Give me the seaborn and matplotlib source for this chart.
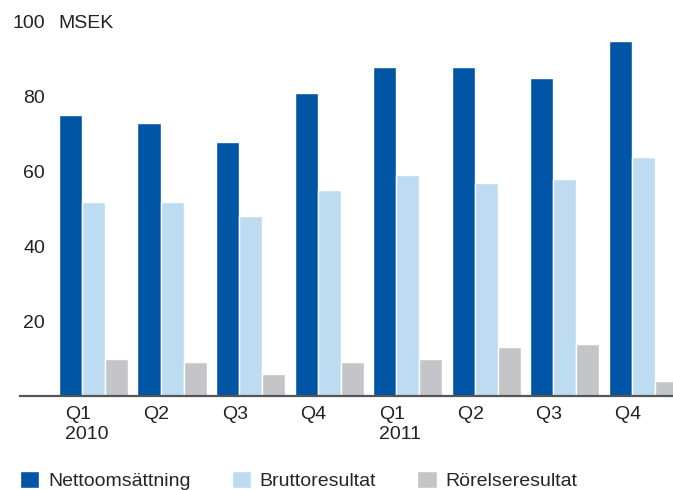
import matplotlib
matplotlib.use('Agg')
import matplotlib.pyplot as plt
import matplotlib.transforms as mtransforms
import pandas as pd
import seaborn as sns

# Data (MSEK)
kvartal = ['Q1\n2010', 'Q2', 'Q3', 'Q4', 'Q1\n2011', 'Q2 ', 'Q3 ', 'Q4 ']
nettoomsattning = [75, 73, 68, 81, 88, 88, 85, 95]
bruttoresultat = [52, 52, 48, 55, 59, 57, 58, 64]
rorelseresultat = [10, 9, 6, 9, 10, 13, 14, 4]
serier = ['Nettoomsättning', 'Bruttoresultat', 'Rörelseresultat']
farger = ['#0055a5', '#bddcf2', '#c3c5c8']

df = pd.DataFrame({
    'kvartal': kvartal * 3,
    'serie': [s for s in serier for _ in kvartal],
    'varde': nettoomsattning + bruttoresultat + rorelseresultat,
})

sns.set_theme(style='white')
plt.rcParams['font.family'] = ['Liberation Sans', 'DejaVu Sans']
plt.rcParams['font.size'] = 14

fig = plt.figure(figsize=(6.73, 4.9), dpi=100)
ax = fig.add_axes([20 / 673, 94 / 490, 1 - 20 / 673, 396 / 490])

sns.barplot(data=df, x='kvartal', y='varde', hue='serie', palette=farger,
            hue_order=serier, order=kvartal, width=0.88, saturation=1,
            edgecolor='white', linewidth=1, ax=ax)

ax.set_ylim(0, 396 / 3.74)
ax.set_xlim(-0.936, 7.38)
ax.set_yticks([20, 40, 60, 80, 100])
ax.set_xlabel('')
ax.set_ylabel('')
for s in ['top', 'right', 'left']:
    ax.spines[s].set_visible(False)
ax.spines['bottom'].set_color('#555555')
ax.spines['bottom'].set_linewidth(1.6)
ax.tick_params(axis='y', length=0, pad=-18, labelsize=14, labelcolor='#222222')
ax.tick_params(axis='x', length=0, pad=7, labelsize=14, labelcolor='#222222')

# etiketterna under staplarna är vänsterjusterade
forskjut = mtransforms.ScaledTranslation(-28.5 / 100, 0, fig.dpi_scale_trans)
for lab in ax.get_xticklabels():
    lab.set_horizontalalignment('left')
    lab.set_linespacing(1.25)
    lab.set_transform(lab.get_transform() + forskjut)

fig.text(58 / 673, 1 - 22 / 490, 'MSEK', fontsize=14, va='center_baseline',
         color='#222222')

sns.move_legend(ax, 'lower left', bbox_to_anchor=(20 / 673, 0),
                bbox_transform=fig.transFigure, ncol=3, frameon=False, title=None,
                fontsize=14, handlelength=1.0, handleheight=1.0, handletextpad=0.45,
                columnspacing=2.1, borderpad=0, borderaxespad=0)

fig.savefig('out.png', dpi=100)
